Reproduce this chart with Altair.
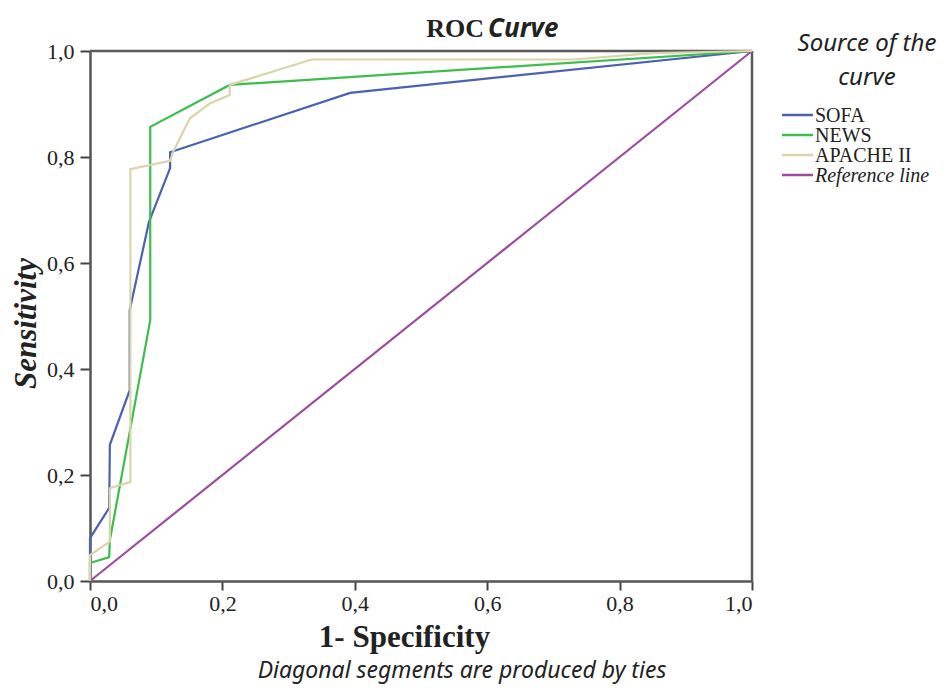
import altair as alt
import pandas as pd

# ---- data ----
series_names = ["SOFA", "NEWS", "APACHE II", "Reference line"]
series_colors = ["#4A62B0", "#3DBE4C", "#DAD4AA", "#9C4C9C"]

sofa_fpr = [0.0, 0.0, 0.029, 0.030, 0.060, 0.060, 0.089, 0.121, 0.121, 0.393, 1.0]
sofa_tpr = [0.0, 0.081, 0.138, 0.257, 0.360, 0.511, 0.677, 0.779, 0.809, 0.921, 1.0]

news_fpr = [0.0, 0.0, 0.029, 0.030, 0.091, 0.091, 0.211, 1.0]
news_tpr = [0.0, 0.034, 0.045, 0.077, 0.492, 0.857, 0.936, 1.0]

apache_fpr = [0.0, 0.0, 0.030, 0.030, 0.061, 0.061, 0.121, 0.126, 0.151, 0.181, 0.211, 0.211, 0.335, 0.730, 0.850, 1.0]
apache_tpr = [0.0, 0.049, 0.074, 0.175, 0.187, 0.777, 0.793, 0.811, 0.873, 0.901, 0.917, 0.936, 0.984, 0.984, 0.996, 1.0]

ref_fpr = [0.0, 1.0]
ref_tpr = [0.0, 1.0]

tick_values = [0.0, 0.2, 0.4, 0.6, 0.8, 1.0]

title_main = "ROC"
title_italic = "Curve"
x_title = "1- Specificity"
y_title = "Sensitivity"
legend_title_lines = ["Source of the", "curve"]
footnote = "Diagonal segments are produced by ties"

# ---- build table ----
rows = []
for name, xs, ys in [
    ("Reference line", ref_fpr, ref_tpr),
    ("SOFA", sofa_fpr, sofa_tpr),
    ("NEWS", news_fpr, news_tpr),
    ("APACHE II", apache_fpr, apache_tpr),
]:
    for i, (xv, yv) in enumerate(zip(xs, ys)):
        rows.append({"series": name, "fpr": xv, "tpr": yv, "idx": i})
df = pd.DataFrame(rows)

SERIF = "Liberation Serif"
SANS = "Noto Sans"
label_expr = "replace(format(datum.value, '.1f'), '.', ',')"

lines = alt.Chart(df).mark_line(strokeWidth=2.2, clip=False).encode(
    x=alt.X(
        "fpr:Q",
        scale=alt.Scale(domain=[0, 1], nice=False, zero=False),
        axis=alt.Axis(
            values=tick_values, labelExpr=label_expr, grid=False,
            tickSize=9, tickWidth=2, tickColor="#444",
            domainColor="#555", domainWidth=2.5,
            labelFont=SERIF, labelFontSize=22, labelColor="#222", labelPadding=3,
            title=x_title, titleFont=SERIF, titleFontSize=31, titleFontWeight="bold",
            titleColor="#222", titleX=314, titleY=65, titleBaseline="alphabetic",
        ),
    ),
    y=alt.Y(
        "tpr:Q",
        scale=alt.Scale(domain=[0, 1], nice=False, zero=False),
        axis=alt.Axis(
            values=tick_values, labelExpr=label_expr, grid=False,
            tickSize=10, tickWidth=2, tickColor="#444",
            domainColor="#555", domainWidth=2.5,
            labelFont=SERIF, labelFontSize=22, labelColor="#222", labelPadding=6,
            title=y_title, titleFont=SERIF, titleFontSize=31, titleFontWeight="bold",
            titleFontStyle="italic", titleColor="#222",
            titleX=-55, titleY=272, titleBaseline="alphabetic", titleAngle=270,
        ),
    ),
    color=alt.Color("series:N", scale=alt.Scale(domain=series_names, range=series_colors), legend=None),
    order="idx:Q",
    detail="series:N",
)

def text_layer(txt, x, y, font, size, weight="normal", style="normal", align="left", baseline="alphabetic", color="#222"):
    return alt.Chart(pd.DataFrame({"t": [txt]})).mark_text(
        font=font, fontSize=size, fontWeight=weight, fontStyle=style,
        align=align, baseline=baseline, color=color,
    ).encode(text="t:N", x=alt.value(x), y=alt.value(y))

border_df = pd.DataFrame({"b": ["frame"]})
top_border = alt.Chart(border_df).mark_rule(color="#5A5A5A", strokeWidth=2.5).encode(
    x=alt.value(0), x2=alt.value(662), y=alt.value(0)
)
right_border = alt.Chart(border_df).mark_rule(color="#5A5A5A", strokeWidth=2.5).encode(
    x=alt.value(662), y=alt.value(0), y2=alt.value(530)
)

layers = [top_border, right_border, lines]
# title
layers.append(text_layer(title_main, 394, -14, SERIF, 26, weight="bold", align="right"))
layers.append(text_layer(title_italic, 398, -14, SANS, 26, weight="bold", style="italic", align="left"))
# footnote
layers.append(text_layer(footnote, 372, 627, SANS, 23, style="italic", align="center"))
# legend title
layers.append(text_layer(legend_title_lines[0], 777, 0, SANS, 24, style="italic", align="center"))
layers.append(text_layer(legend_title_lines[1], 777, 34, SANS, 24, style="italic", align="center"))

# legend entries
row_y = [64, 84, 104, 124]
for name, col, ry in zip(series_names, series_colors, row_y):
    sym = alt.Chart(pd.DataFrame({"s": [name]})).mark_rule(strokeWidth=2.5, color=col).encode(
        x=alt.value(692), x2=alt.value(723), y=alt.value(ry)
    )
    layers.append(sym)
    layers.append(text_layer(name, 725, ry + 1, SERIF, 20,
                             style="italic" if name == "Reference line" else "normal",
                             baseline="middle"))

chart = alt.layer(*layers).properties(
    width=662,
    height=530,
    padding={"left": 82, "top": 43, "right": 189, "bottom": 104},
    autosize=alt.AutoSizeParams(type="none"),
).configure_view(
    fill="#EFF1F0", stroke="#555555", strokeWidth=2.5
).configure(background="white")

chart.save("out.html", embed_options={"renderer": "svg", "actions": False})
